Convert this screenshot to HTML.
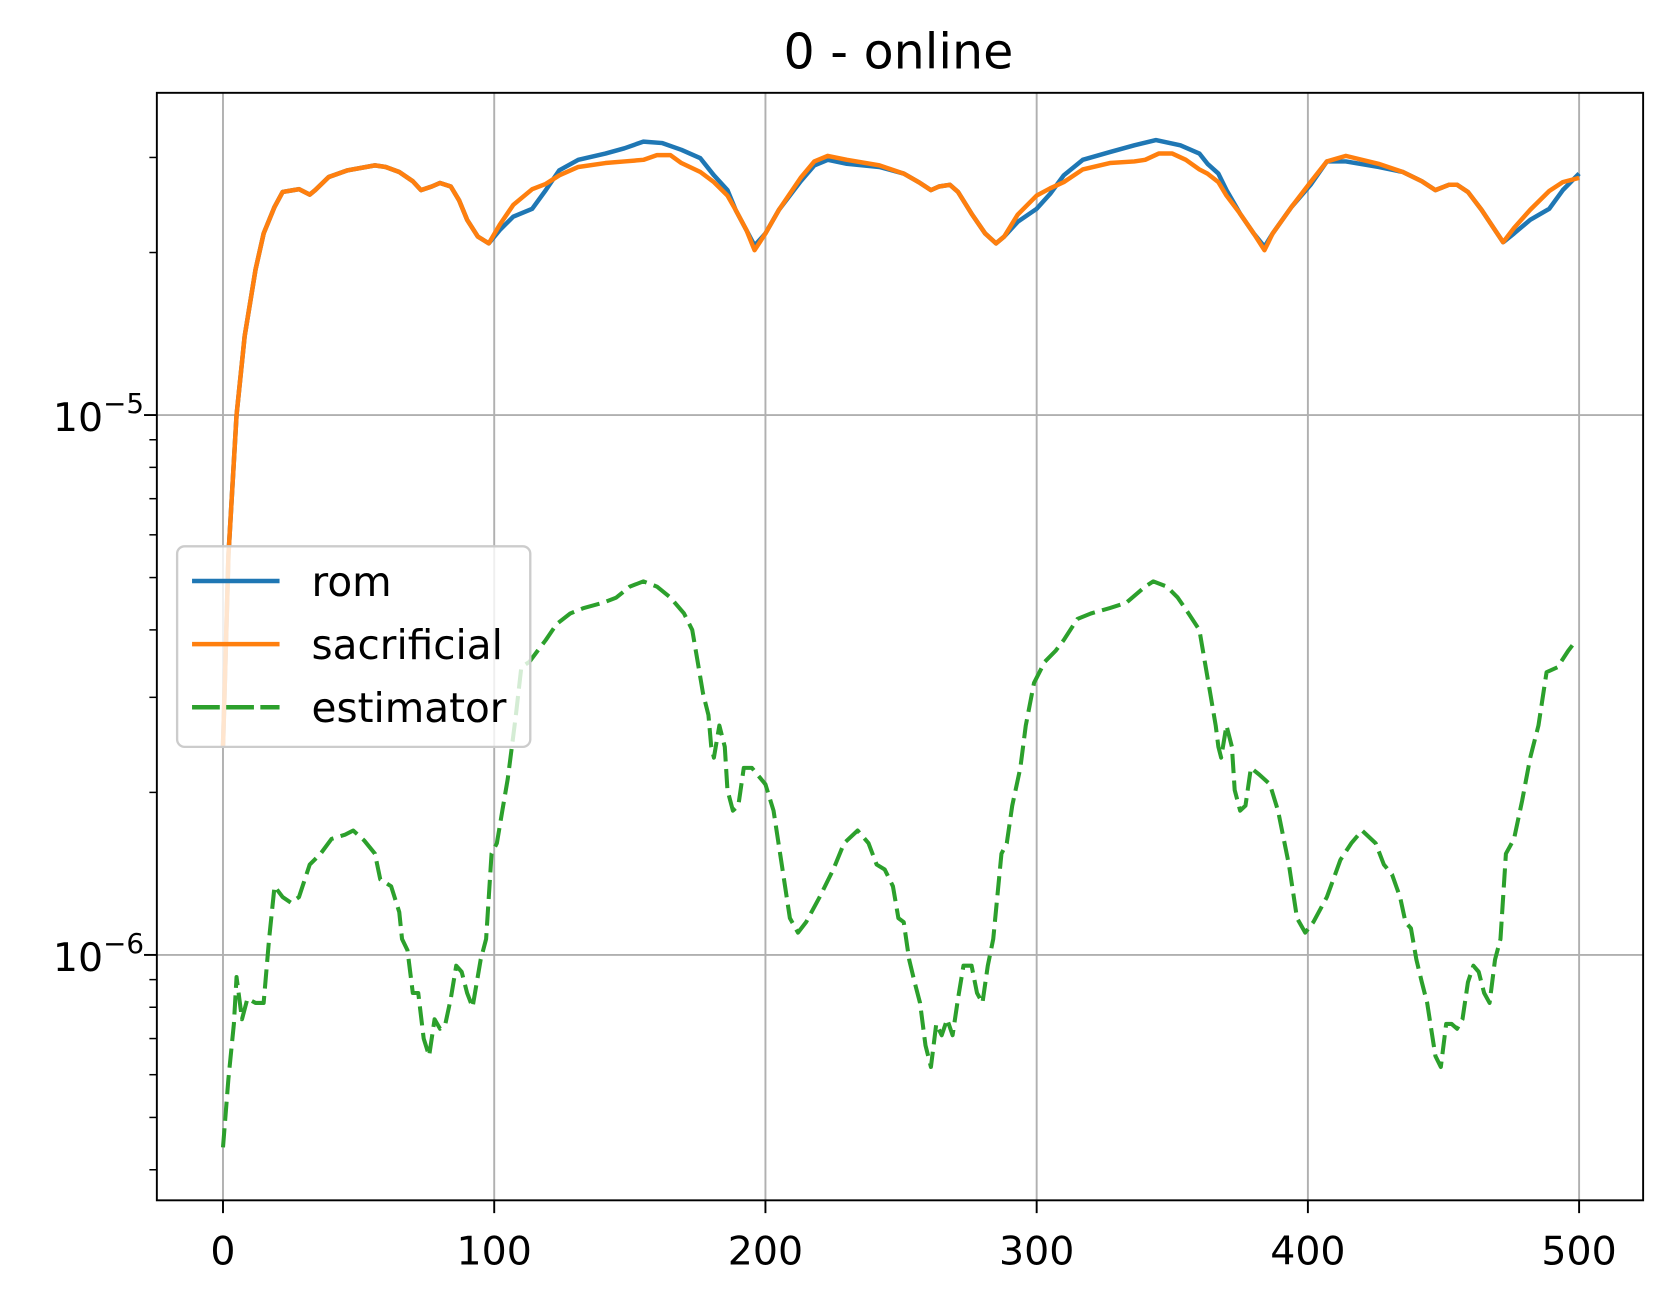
<!DOCTYPE html>
<html><head><meta charset="utf-8"><style>
html,body{margin:0;padding:0;background:#fff;}
svg{display:block;font-family:"DejaVu Sans","Liberation Sans",sans-serif;}
</style></head><body>
<svg id="chart" width="1673" height="1302" viewBox="0 0 1568 1220.3" preserveAspectRatio="none" xmlns="http://www.w3.org/2000/svg">
<defs><clipPath id="clip"><rect x="147" y="87" width="1393" height="1038"/></clipPath></defs>
<rect width="1568" height="1220.3" fill="#fff"/>
<text x="842" y="64" font-size="46" text-anchor="middle" fill="#000">0 - online</text>
<g id="grid"></g><g id="series" clip-path="url(#clip)"></g><g id="axes"></g><g id="legend"></g>
</svg>
<script>
const xTicks=[0,100,200,300,400,500];
const yMajor=[1e-6,1e-5];
const yMinor=[4e-7,5e-7,6e-7,7e-7,8e-7,9e-7,2e-6,3e-6,4e-6,5e-6,6e-6,7e-6,8e-6,9e-6,2e-5,3e-5];
const romX=[0,2,5,8,12,15,19,22,26,28,32,34,39,46,56,60,65,70,73,77,80,84,87,90,94,98,102,107,114,119,124,131,141,148,155,162,169,176,181,186,189,193,196,200,205,213,218,223,230,242,251,257,261,264,268,271,276,281,285,288,293,300,305,310,317,327,336,344,353,360,363,367,370,375,380,384,387,394,401,407,414,426,435,442,447,452,455,459,464,469,472,476,482,489,494,500];
const romY=[0.243,0.55,1.0,1.4,1.86,2.17,2.43,2.59,2.61,2.62,2.56,2.61,2.76,2.84,2.90,2.88,2.82,2.71,2.61,2.65,2.69,2.65,2.50,2.30,2.14,2.08,2.20,2.33,2.41,2.61,2.84,2.97,3.05,3.12,3.21,3.19,3.10,2.99,2.78,2.61,2.40,2.20,2.06,2.17,2.40,2.71,2.90,2.97,2.92,2.88,2.80,2.69,2.61,2.65,2.67,2.59,2.36,2.17,2.08,2.14,2.28,2.41,2.57,2.78,2.97,3.07,3.16,3.23,3.16,3.05,2.92,2.80,2.61,2.36,2.17,2.05,2.17,2.43,2.67,2.95,2.95,2.88,2.82,2.71,2.61,2.67,2.67,2.59,2.40,2.20,2.09,2.17,2.30,2.41,2.61,2.80].map(v=>v*1e-5);
const sacX=[0,2,5,8,12,15,19,22,26,28,32,34,39,46,56,60,65,70,73,77,80,84,87,90,94,98,102,107,114,119,124,131,141,148,155,160,165,169,176,181,186,189,193,196,200,205,213,218,223,230,242,251,257,261,264,268,271,276,281,285,288,293,300,305,310,317,327,336,340,345,350,355,360,363,367,370,375,380,384,387,394,401,407,414,426,435,442,447,452,455,459,464,469,472,476,482,489,494,500];
const sacY=[0.243,0.55,1.0,1.4,1.86,2.17,2.43,2.59,2.61,2.62,2.56,2.61,2.76,2.84,2.90,2.88,2.82,2.71,2.61,2.65,2.69,2.65,2.50,2.30,2.14,2.08,2.25,2.45,2.62,2.68,2.78,2.88,2.93,2.95,2.97,3.03,3.03,2.93,2.82,2.70,2.55,2.40,2.20,2.02,2.17,2.40,2.75,2.95,3.02,2.97,2.90,2.80,2.69,2.61,2.65,2.67,2.59,2.36,2.17,2.08,2.14,2.35,2.55,2.63,2.70,2.85,2.93,2.95,2.97,3.05,3.05,2.97,2.85,2.80,2.70,2.55,2.36,2.17,2.02,2.17,2.43,2.70,2.95,3.02,2.92,2.82,2.71,2.61,2.67,2.67,2.59,2.40,2.20,2.09,2.22,2.40,2.60,2.70,2.75].map(v=>v*1e-5);
const estX=[0,2,4,5,7,9,12,15,17,19,22,25,28,32,36,40,45,48,52,56,58,62,65,66,68,70,72,74,76,78,80,82,84,86,88,90,92,95,97,99,101,103,105,107,108,110,113,116,119,123,128,133,140,145,150,155,160,165,170,173,175,177,179,180,181,183,185,186,188,190,192,195,200,203,206,209,212,215,220,225,229,234,238,241,244,247,249,251,253,255,257,259,261,263,265,267,269,271,273,276,278,280,282,284,287,289,291,294,296,299,303,307,310,315,320,327,333,340,343,348,352,356,360,362,364,366,367,368,370,372,373,375,377,379,382,386,389,393,396,399,402,407,412,416,420,425,428,431,434,436,438,440,442,444,447,449,451,453,455,457,459,461,463,465,467,469,471,473,476,479,482,485,488,492,496,499];
const estY=[0.44,0.59,0.745,0.91,0.76,0.83,0.815,0.815,1.07,1.34,1.28,1.25,1.28,1.47,1.54,1.64,1.67,1.70,1.63,1.54,1.38,1.34,1.20,1.07,1.02,0.85,0.85,0.70,0.65,0.76,0.73,0.745,0.83,0.955,0.93,0.85,0.80,0.98,1.07,1.54,1.61,1.85,2.12,2.54,2.78,3.41,3.49,3.66,3.83,4.10,4.29,4.39,4.49,4.59,4.81,4.92,4.81,4.59,4.29,4.00,3.49,3.05,2.78,2.43,2.32,2.66,2.43,2.02,1.85,1.89,2.22,2.22,2.07,1.85,1.47,1.17,1.10,1.15,1.28,1.44,1.61,1.70,1.61,1.47,1.44,1.34,1.17,1.15,0.98,0.89,0.815,0.68,0.62,0.745,0.71,0.76,0.71,0.83,0.955,0.955,0.85,0.815,0.955,1.07,1.54,1.61,1.89,2.22,2.66,3.19,3.49,3.66,3.83,4.19,4.29,4.39,4.49,4.81,4.92,4.81,4.59,4.29,4.00,3.49,3.05,2.66,2.43,2.32,2.66,2.43,2.02,1.85,1.89,2.22,2.16,2.07,1.85,1.47,1.17,1.10,1.15,1.28,1.50,1.61,1.70,1.61,1.47,1.41,1.28,1.15,1.12,0.98,0.89,0.815,0.65,0.62,0.745,0.745,0.73,0.76,0.89,0.955,0.93,0.85,0.815,0.98,1.07,1.54,1.64,1.93,2.32,2.66,3.34,3.41,3.66,3.83].map(v=>v*1e-6);
const NS="http://www.w3.org/2000/svg";
const L=147,R=1540,T=87,B=1125;
function X(v){return 209+(v-0)*(1480-209)/500;}
function Y(v){return 895-(Math.log10(v)+6)*506;}
function mk(tag,attrs,parent){const e=document.createElementNS(NS,tag);for(const k in attrs)e.setAttribute(k,attrs[k]);parent.appendChild(e);return e;}
const grid=document.getElementById('grid'),axes=document.getElementById('axes'),ser=document.getElementById('series'),leg=document.getElementById('legend');
xTicks.forEach(t=>{
  const g=mk('line',{x1:X(t),x2:X(t),y1:T,y2:B,stroke:'#b0b0b0','stroke-width':1.8},grid);
  
  
  const tk=mk('line',{x1:X(t),x2:X(t),y1:B,y2:B+12,stroke:'#000','stroke-width':1.8},axes);
  
  
  const tx=mk('text',{x:X(t),y:B+60,'font-size':37,'text-anchor':'middle',fill:'#000'},axes);
  tx.textContent=String(t);
  
  
});
yMajor.forEach(t=>{
  const g=mk('line',{x1:L,x2:R,y1:Y(t),y2:Y(t),stroke:'#b0b0b0','stroke-width':1.8},grid);
  
  
  const tk=mk('line',{x1:L-12,x2:L,y1:Y(t),y2:Y(t),stroke:'#000','stroke-width':1.8},axes);
  
  
  const tx=mk('text',{x:L-12,y:Y(t)+15,'font-size':37,'text-anchor':'end',fill:'#000'},axes);
  
  
  const e=Math.round(Math.log10(t));
  tx.innerHTML='10<tspan dy="-17" font-size="26">\u2212'+Math.abs(e)+'</tspan>';
});
yMinor.forEach(t=>{
  const tk=mk('line',{x1:L-7,x2:L,y1:Y(t),y2:Y(t),stroke:'#000','stroke-width':1.4},axes);
  
  
});
const fr=mk('rect',{x:L,y:T,width:R-L,height:B-T,fill:'none',stroke:'#000','stroke-width':1.8},axes);


function path(xs,ys){const n=Math.min(xs.length,ys.length);let d='';for(let i=0;i<n;i++)d+=(i?'L':'M')+X(xs[i]).toFixed(1)+','+Y(ys[i]).toFixed(1);return d;}
const pr=mk('path',{d:path(romX,romY),fill:'none',stroke:'#1f77b4','stroke-width':4.2,'stroke-linejoin':'round'},ser);


const ps=mk('path',{d:path(sacX,sacY),fill:'none',stroke:'#ff7f0e','stroke-width':4.2,'stroke-linejoin':'round'},ser);


const pe=mk('path',{d:path(estX,estY),fill:'none',stroke:'#2ca02c','stroke-width':3.8,'stroke-dasharray':'18,7','stroke-linejoin':'round'},ser);


const lb=mk('rect',{x:166,y:512,width:331,height:188,rx:7,fill:'#fff','fill-opacity':0.8,stroke:'#cccccc','stroke-width':2.2},leg);


const legNames=['rom','sacrificial','estimator'];
const legCols=['#1f77b4','#ff7f0e','#2ca02c'];
legNames.forEach((n,i)=>{
  const y=544.5+i*59.2;
  const ln=mk('line',{x1:180,x2:262,y1:y,y2:y,stroke:legCols[i],'stroke-width':4.2,'stroke-dasharray':i==2?'26,6':'none'},leg);
  
  
  const tx=mk('text',{x:292,y:y+14,'font-size':38,fill:'#000'},leg);
  tx.textContent=n;
  
  
});
</script>
</body></html>
